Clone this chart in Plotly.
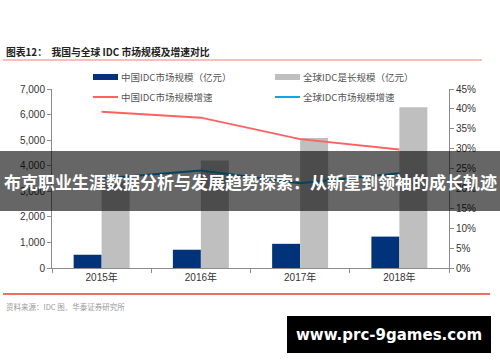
import plotly.graph_objects as go

# ---- data ----
years = ["2015年", "2016年", "2017年", "2018年"]
china_size = [518.6, 714.5, 946.1, 1228.0]          # 中国IDC市场规模（亿元）
global_size = [3380, 4200, 5080, 6290]               # 全球IDC是长规模（亿元）
china_growth = [0.393, 0.378, 0.324, 0.298]          # 中国IDC市场规模增速
global_growth = [0.225, 0.245, 0.213, 0.238]         # 全球IDC市场规模增速

left_ticks = [0, 1000, 2000, 3000, 4000, 5000, 6000, 7000]
right_ticks = [0, 0.05, 0.10, 0.15, 0.20, 0.25, 0.30, 0.35, 0.40, 0.45]

names = ["中国IDC市场规模（亿元）", "全球IDC是长规模（亿元）",
         "中国IDC市场规模增速", "全球IDC市场规模增速"]
title_text = "图表12：  我国与全球 IDC 市场规模及增速对比"
source_text = "资料来源：IDC 图、华泰证券研究所"
banner_text = "布克职业生涯数据分析与发展趋势探索：从新星到领袖的成长轨迹"
watermark_text = "www.prc-9games.com"

NAVY = "#00337A"
GRAY = "#BFBFBF"
RED = "#FF6161"
BLUE = "#12A5E6"
FONT = "Liberation Sans, Noto Sans CJK SC, sans-serif"
CJK = "Noto Sans CJK SC, sans-serif"

fig = go.Figure()
fig.add_trace(go.Bar(x=years, y=china_size, name=names[0], marker_color=NAVY,
                     marker_line_width=0, yaxis="y"))
fig.add_trace(go.Bar(x=years, y=global_size, name=names[1], marker_color=GRAY,
                     marker_line_width=0, yaxis="y"))
fig.add_trace(go.Scatter(x=years, y=china_growth, name=names[2], mode="lines",
                         line=dict(color=RED, width=2), yaxis="y2"))
fig.add_trace(go.Scatter(x=years, y=global_growth, name=names[3], mode="lines",
                         line=dict(color=BLUE, width=2), yaxis="y2"))

# plot area in pixels: x 52..449, y 89..268
L, R, T, B = 52, 449, 89, 268
W, H = R - L, B - T


def px(x):
    return (x - L) / W


def py(y):
    return (B - y) / H


shapes = []
annotations = []

# title + rules
annotations.append(dict(x=px(4), y=py(52), xref="paper", yref="paper", xanchor="left",
                        yanchor="middle", showarrow=False, text="<b>" + title_text + "</b>",
                        font=dict(family=CJK, size=9.8, color="#222222")))
shapes.append(dict(type="line", xref="paper", yref="paper", x0=px(3), x1=px(482),
                   y0=py(60), y1=py(60), line=dict(color="#F08070", width=1)))
shapes.append(dict(type="line", xref="paper", yref="paper", x0=px(3), x1=px(490),
                   y0=py(294), y1=py(294), line=dict(color="#E84030", width=1.5)))
annotations.append(dict(x=px(4), y=py(306), xref="paper", yref="paper", xanchor="left",
                        yanchor="middle", showarrow=False, text=source_text,
                        font=dict(family=CJK, size=7.5, color="#9A9A9A")))

# manual legend
leg = [
    (93, 77, "bar", NAVY, names[0]),
    (275, 77, "bar", GRAY, names[1]),
    (93, 97, "line", RED, names[2]),
    (275, 97, "line", BLUE, names[3]),
]
for x0, yc, kind, col, txt in leg:
    if kind == "bar":
        shapes.append(dict(type="rect", xref="paper", yref="paper", x0=px(x0), x1=px(x0 + 25),
                           y0=py(yc + 3), y1=py(yc - 3), fillcolor=col, line=dict(width=0)))
    else:
        shapes.append(dict(type="line", xref="paper", yref="paper", x0=px(x0), x1=px(x0 + 25),
                           y0=py(yc), y1=py(yc), line=dict(color=col, width=2)))
    annotations.append(dict(x=px(x0 + 26), y=py(yc), xref="paper", yref="paper",
                            xanchor="left", yanchor="middle", showarrow=False, text=txt,
                            font=dict(family=CJK, size=9.5, color="#555555")))

# overlay banner
shapes.append(dict(type="rect", xref="paper", yref="paper", x0=px(0), x1=px(500),
                   y0=py(211), y1=py(151), fillcolor="rgba(0,0,0,0.6)", line=dict(width=0),
                   layer="above"))
annotations.append(dict(x=px(250), y=py(181), xref="paper", yref="paper", xanchor="center",
                        yanchor="middle", showarrow=False, text="<b>" + banner_text + "</b>",
                        font=dict(family=CJK, size=17, color="white")))

# watermark
shapes.append(dict(type="rect", xref="paper", yref="paper", x0=px(287), x1=px(491),
                   y0=py(353), y1=py(316), fillcolor="black", line=dict(width=0),
                   layer="above"))
annotations.append(dict(x=px(389), y=py(334.5), xref="paper", yref="paper", xanchor="center",
                        yanchor="middle", showarrow=False, text="<b>" + watermark_text + "</b>",
                        font=dict(family="DejaVu Sans, sans-serif", size=15, color="white")))

fig.update_layout(
    width=500, height=362,
    margin=dict(l=L, r=500 - R, t=T, b=362 - B, pad=0),
    paper_bgcolor="white", plot_bgcolor="white",
    showlegend=False,
    barmode="group", bargap=0.436, bargroupgap=0,
    font=dict(family=FONT, size=10, color="#333333"),
    xaxis=dict(type="category", showline=True, linecolor="#8C8C8C", linewidth=1,
               ticks="outside", tickson="boundaries", ticklen=4, tickcolor="#8C8C8C",
               showgrid=False, tickfont=dict(family=FONT, size=10, color="#333333")),
    yaxis=dict(range=[0, 7000], tickvals=left_ticks, tickformat=",", showline=True,
               linecolor="#8C8C8C", linewidth=1, ticks="outside", ticklen=4,
               tickcolor="#8C8C8C", showgrid=False, zeroline=False,
               tickfont=dict(family=FONT, size=10, color="#333333")),
    yaxis2=dict(range=[0, 0.45], tickvals=right_ticks, tickformat=".0%", overlaying="y",
                side="right", showline=True, linecolor="#8C8C8C", linewidth=1,
                ticks="outside", ticklen=4, tickcolor="#8C8C8C", showgrid=False,
                zeroline=False, tickfont=dict(family=FONT, size=10, color="#333333")),
    shapes=shapes,
    annotations=annotations,
)

fig.write_html("out.html", config={"displayModeBar": False},
               post_script="document.body.style.margin='0';")
